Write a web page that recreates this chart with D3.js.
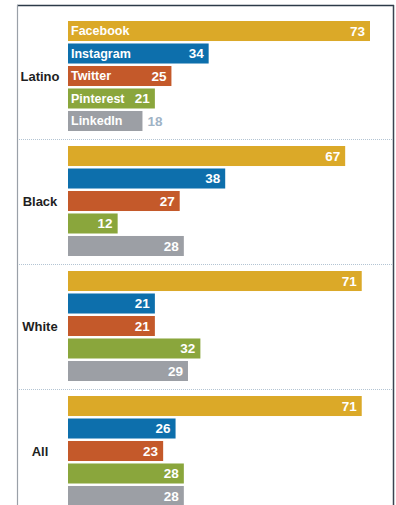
<!DOCTYPE html>
<html>
<head>
<meta charset="utf-8">
<script src="https://cdn.jsdelivr.net/npm/d3@7"></script>
<style>
  html, body { margin: 0; padding: 0; background: #fff; }
  svg { display: block; }
  text { font-family: "Liberation Sans", Arial, sans-serif; }
</style>
</head>
<body>
<div id="chart"></div>
<script>
const groups = ["Latino", "Black", "White", "All"];
const platforms = ["Facebook", "Instagram", "Twitter", "Pinterest", "LinkedIn"];
const latinoValues = [73, 34, 25, 21, 18];
const blackValues  = [67, 38, 27, 12, 28];
const whiteValues  = [71, 21, 21, 32, 29];
const allValues    = [71, 26, 23, 28, 28];
const seriesValues = [latinoValues, blackValues, whiteValues, allValues];
const colors = ["#dba928", "#0d6fac", "#c4592a", "#8aa63c", "#9c9fa5"];

const W = 396, H = 505;
const svg = d3.select("#chart").append("svg").attr("width", W).attr("height", H);

const x = d3.scaleLinear().domain([0, 73]).range([68, 370]);
const gy = d3.scaleBand().domain(groups).range([14, 514]);
const by = d3.scaleBand().domain(platforms).range([7, 117]).paddingInner(0.11).paddingOuter(0);

// frame
svg.append("line").attr("x1", 17).attr("x2", 394).attr("y1", 5.5).attr("y2", 5.5)
  .attr("stroke", "#2c3a48").attr("stroke-width", 1.5);
svg.append("line").attr("x1", 17.5).attr("x2", 17.5).attr("y1", 5).attr("y2", H)
  .attr("stroke", "#9aa0a8").attr("stroke-width", 1.2);
svg.append("line").attr("x1", 393.5).attr("x2", 393.5).attr("y1", 5).attr("y2", H)
  .attr("stroke", "#3a4450").attr("stroke-width", 1.5);

// separators
groups.slice(1).forEach(g => {
  svg.append("line").attr("x1", 19).attr("x2", 392)
    .attr("y1", gy(g) + 0.5).attr("y2", gy(g) + 0.5)
    .attr("stroke", "#b3c4d3").attr("stroke-width", 1).attr("stroke-dasharray", "1,1");
});

const data = [];
groups.forEach((g, gi) => platforms.forEach((p, pi) => {
  data.push({ group: g, platform: p, value: seriesValues[gi][pi], color: colors[pi], gi, pi });
}));

const gs = svg.selectAll("g.grp").data(groups).join("g").attr("class", "grp")
  .attr("transform", g => `translate(0,${gy(g)})`);

gs.append("text")
  .attr("x", 40).attr("y", by("Twitter") + by.bandwidth() / 2)
  .attr("dy", "0.35em").attr("text-anchor", "middle")
  .attr("font-weight", "bold").attr("font-size", 13).attr("fill", "#1e1e22")
  .text(g => g);

gs.each(function(g, gi) {
  const sel = d3.select(this);
  const rows = data.filter(d => d.gi === gi);
  sel.selectAll("rect").data(rows).join("rect")
    .attr("x", x(0)).attr("y", d => by(d.platform))
    .attr("width", d => x(d.value) - x(0)).attr("height", by.bandwidth())
    .attr("fill", d => d.color);
  if (gi === 0) {
    sel.selectAll("text.plab").data(rows).join("text").attr("class", "plab")
      .attr("x", x(0) + 3).attr("y", d => by(d.platform) + by.bandwidth() / 2)
      .attr("dy", "0.35em").attr("font-weight", "bold").attr("font-size", 12.5)
      .attr("fill", "#fff").text(d => d.platform);
  }
  sel.selectAll("text.vlab").data(rows).join("text").attr("class", "vlab")
    .attr("x", d => (gi === 0 && d.platform === "LinkedIn") ? x(d.value) + 5 : x(d.value) - 5)
    .attr("y", d => by(d.platform) + by.bandwidth() / 2)
    .attr("dy", "0.35em")
    .attr("text-anchor", d => (gi === 0 && d.platform === "LinkedIn") ? "start" : "end")
    .attr("font-weight", "bold").attr("font-size", 13.5)
    .attr("fill", d => (gi === 0 && d.platform === "LinkedIn") ? "#9fb3c6" : "#fff")
    .text(d => d.value);
});
</script>
</body>
</html>
